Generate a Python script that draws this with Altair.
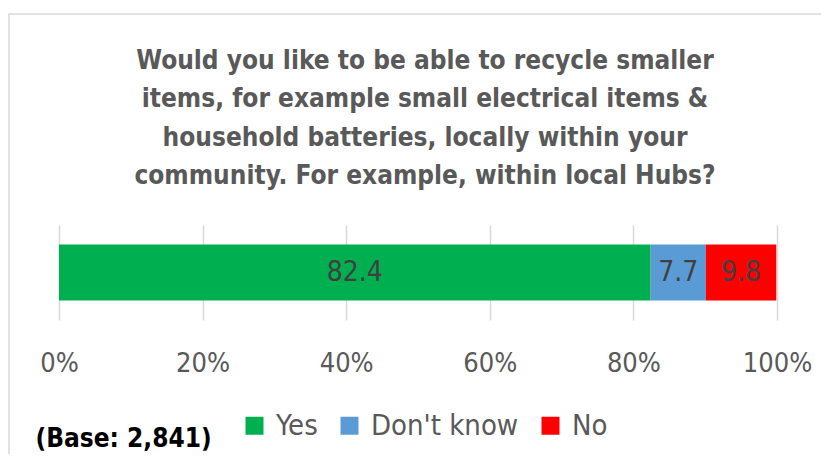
import altair as alt
import pandas as pd

categories = ["Yes", "Don't know", "No"]
values = [82.4, 7.7, 9.8]
colors = ["#00B050", "#5B9BD5", "#FF0000"]
tick_values = [0, 20, 40, 60, 80, 100]
title_lines = [
    "Would you like to be able to recycle smaller",
    "items, for example small electrical items &",
    "household batteries, locally within your",
    "community. For example, within local Hubs?",
]
base_note = "(Base: 2,841)"

FONT = "DejaVu Sans Condensed, Liberation Sans, sans-serif"

df = pd.DataFrame({
    "cat": categories,
    "val": values,
    "ord": list(range(len(categories))),
    "row": ["q"] * len(categories),
})

W, H = 718, 95

base = alt.Chart(df).transform_stack(
    stack="val", groupby=["row"], as_=["v0", "v1"], sort=[alt.SortField("ord")]
).transform_calculate(mid="(datum.v0 + datum.v1) / 2")

xscale = alt.Scale(domain=[0, 100], nice=False)

bars = base.mark_bar(size=56).encode(
    x=alt.X(
        "v0:Q",
        scale=xscale,
        axis=alt.Axis(
            values=tick_values,
            labelExpr="datum.value + '%'",
            grid=True,
            gridColor="#D9D9D9",
            gridWidth=1.5,
            ticks=False,
            domain=False,
            labelFont=FONT,
            labelFontSize=27,
            labelColor="#595959",
            labelPadding=30,
            labelFlush=False,
            title=base_note,
            titleFont=FONT,
            titleFontSize=26,
            titleFontWeight="bold",
            titleColor="#000000",
            titleX=-24,
            titleY=118,
            titleAlign="left",
            titleBaseline="middle",
        ),
    ),
    x2="v1:Q",
    y=alt.Y("row:N", axis=None),
    color=alt.Color(
        "cat:N",
        scale=alt.Scale(domain=categories, range=colors),
        sort=categories,
        legend=alt.Legend(
            title=None,
            orient="none",
            direction="horizontal",
            legendX=181,
            legendY=186,
            symbolType="square",
            symbolSize=324,
            symbolStrokeWidth=0,
            symbolOpacity=1,
            labelFont=FONT,
            labelFontSize=29,
            labelColor="#595959",
            labelOffset=7,
            columnPadding=17,
            padding=0,
        ),
    ),
)

labels = base.mark_text(font=FONT, fontSize=28, color="#404040").encode(
    x=alt.X("mid:Q", scale=xscale),
    y=alt.Y("row:N", axis=None),
    text=alt.Text("val:Q", format=".1f"),
)

frame = alt.Chart(pd.DataFrame({"f": [0]})).mark_rect(
    fill=None, stroke="#D9D9D9", strokeWidth=1.5, clip=False
).encode(
    x=alt.value(-50), x2=alt.value(800), y=alt.value(-211), y2=alt.value(400)
)

chart = alt.layer(frame, bars, labels).properties(
    width=W,
    height=H,
    title=alt.TitleParams(
        text=title_lines,
        font=FONT,
        fontSize=26,
        fontWeight="bold",
        color="#595959",
        lineHeight=38.5,
        anchor="middle",
        frame="group",
        dx=7,
        offset=-176,
    ),
    padding={"left": 51, "top": 217, "right": 44, "bottom": 134},
    autosize=alt.AutoSizeParams(type="none"),
).configure_view(stroke=None)

chart.save("out.html", embed_options={"renderer": "svg", "actions": False})
